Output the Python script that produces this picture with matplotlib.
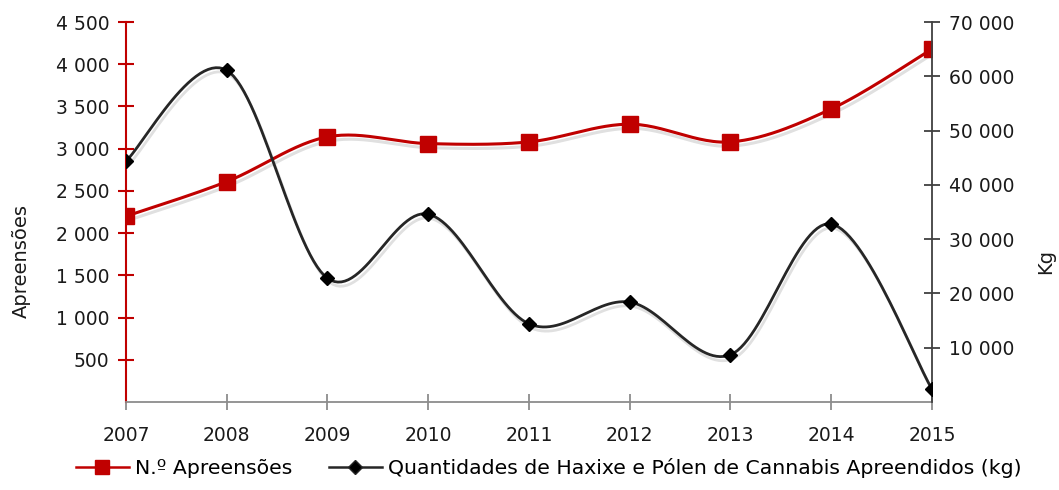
import numpy as np
import matplotlib
matplotlib.use("Agg")
import matplotlib.pyplot as plt
import matplotlib.patheffects as pe
from matplotlib.ticker import FuncFormatter
from matplotlib.lines import Line2D

plt.rcParams['font.family'] = ['DejaVu Sans']

years = [2007, 2008, 2009, 2010, 2011, 2012, 2013, 2014, 2015]
apreensoes = [2200, 2610, 3140, 3060, 3080, 3290, 3080, 3470, 4180]
quantidades_kg = [44400, 61100, 22800, 34600, 14400, 18400, 8700, 32800, 2400]

red = '#C00000'
dark = '#262626'
txt = '#1a1a1a'


def smooth(x, y, n=30):
    # cardinal spline similar to Excel's smoothed line
    x = np.asarray(x, float)
    y = np.asarray(y, float)
    xs, ys = [], []
    for i in range(len(x) - 1):
        p0 = (x[max(i - 1, 0)], y[max(i - 1, 0)])
        p1 = (x[i], y[i])
        p2 = (x[i + 1], y[i + 1])
        p3 = (x[min(i + 2, len(x) - 1)], y[min(i + 2, len(x) - 1)])
        c1 = (p1[0] + (p2[0] - p0[0]) / 6, p1[1] + (p2[1] - p0[1]) / 6)
        c2 = (p2[0] - (p3[0] - p1[0]) / 6, p2[1] - (p3[1] - p1[1]) / 6)
        t = np.linspace(0, 1, n)
        for a, b in ((0, xs), (1, ys)):
            b.extend((1 - t) ** 3 * p1[a] + 3 * (1 - t) ** 2 * t * c1[a]
                     + 3 * (1 - t) * t ** 2 * c2[a] + t ** 3 * p2[a])
    return np.array(xs), np.array(ys)


def fmt(v, pos):
    return f"{int(v):,}".replace(",", " ")


fig = plt.figure(figsize=(10.59, 4.9), dpi=100)
ax = fig.add_axes([0.119, 0.1796, 0.761, 0.7755])
ax2 = ax.twinx()

shadow = [pe.SimpleLineShadow(offset=(1.5, -3), alpha=0.12, rho=0.3), pe.Normal()]

xs, ys = smooth(years, apreensoes)
ax.plot(xs, ys, color=red, lw=2.2, path_effects=shadow, zorder=3)
ax.plot(years, apreensoes, 's', color=red, ms=11, zorder=4)

xs2, ys2 = smooth(years, quantidades_kg)
ax2.plot(xs2, ys2, color=dark, lw=2.0, path_effects=shadow, zorder=3)
ax2.plot(years, quantidades_kg, 'D', color='black', ms=7, zorder=4)

ax.set_xlim(2007, 2015)
ax.set_ylim(0, 4500)
ax2.set_ylim(0, 70000)
ax.set_yticks(np.arange(500, 4501, 500))
ax2.set_yticks(np.arange(10000, 70001, 10000))
ax.set_xticks(years)
ax.yaxis.set_major_formatter(FuncFormatter(fmt))
ax2.yaxis.set_major_formatter(FuncFormatter(fmt))

ax.spines['top'].set_visible(False)
ax2.spines['top'].set_visible(False)
ax.spines['right'].set_visible(False)
ax2.spines['left'].set_visible(False)
ax2.spines['bottom'].set_visible(False)
ax.spines['left'].set_color(red)
ax.spines['left'].set_linewidth(1.5)
ax.spines['bottom'].set_color('#8c8c8c')
ax.spines['bottom'].set_linewidth(1.3)
ax2.spines['right'].set_color('#404040')
ax2.spines['right'].set_linewidth(1.3)

ax.tick_params(axis='y', direction='inout', length=12, width=1.5, color=red,
               labelsize=13.5, labelcolor=txt, pad=6)
ax.tick_params(axis='x', direction='inout', length=12, width=1.3, color='#8c8c8c',
               labelsize=13.5, labelcolor=txt, pad=11)
ax2.tick_params(axis='y', direction='inout', length=12, width=1.3, color='#404040',
                labelsize=13.5, labelcolor=txt, pad=6)

ax.set_ylabel('Apreensões', fontsize=14, color=txt, labelpad=18, y=0.37)
ax2.set_ylabel('Kg', fontsize=14, color=txt, labelpad=16, y=0.37)

handles = [
    Line2D([], [], color=red, lw=1.8, marker='s', ms=10),
    Line2D([], [], color=dark, lw=1.8, marker='D', ms=7, markerfacecolor='black'),
]
fig.legend(handles, ['N.º Apreensões', 'Quantidades de Haxixe e Pólen de Cannabis Apreendidos (kg)'],
           loc='center', bbox_to_anchor=(0.518, 0.045), ncol=2, frameon=False,
           fontsize=14.7, handlelength=2.6, columnspacing=1.8, handletextpad=0.3)

fig.savefig('out.png', dpi=100)
